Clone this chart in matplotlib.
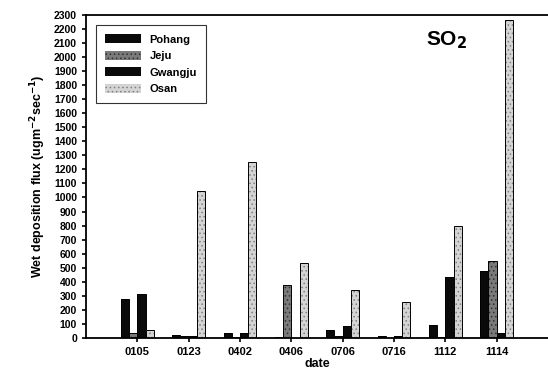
import numpy as np
import matplotlib.pyplot as plt

plt.rcParams['font.family'] = ['Liberation Sans', 'DejaVu Sans']
plt.rcParams['font.weight'] = 'bold'
plt.rcParams['hatch.linewidth'] = 0.6

dates = ['0105', '0123', '0402', '0406', '0706', '0716', '1112', '1114']
pohang = [275, 20, 38, 5, 55, 15, 90, 475]
jeju = [33, 12, 5, 380, 15, 3, 5, 548]
gwangju = [311, 15, 38, 2, 88, 15, 437, 35]
osan = [57, 1045, 1250, 532, 340, 255, 800, 2260]

# name, values, face colour, hatch, hatch colour
series = [('Pohang', pohang, '#0a0a0a', None, '#0a0a0a'),
          ('Jeju', jeju, '#7a7a7a', '....', '#303030'),
          ('Gwangju', gwangju, '#0a0a0a', None, '#0a0a0a'),
          ('Osan', osan, '#d4d4d4', '....', '#808080')]

fig = plt.figure(figsize=(5.48, 3.74), dpi=100)
ax = fig.add_axes([0.157, 0.0963, 0.843, 0.864])

x = np.arange(1, len(dates) + 1)
w = 0.16
handles = []
for i, (name, vals, col, hat, hcol) in enumerate(series):
    pos = x + (i - 1.5) * w
    b = ax.bar(pos, vals, w, color=col, edgecolor=hcol, linewidth=0,
               hatch=hat, label=name)
    ax.bar(pos, vals, w, fill=False, edgecolor='black', linewidth=0.7)
    handles.append(b)

ax.set_xlim(0, 9)
ax.set_ylim(0, 2300)
ax.set_yticks(np.arange(0, 2301, 100))
ax.set_xticks(x)
ax.set_xticklabels(dates)
ax.tick_params(axis='both', labelsize=7.5, direction='out', width=1.2, length=3)
ax.tick_params(axis='x', labelsize=8)
for lab in ax.get_xticklabels() + ax.get_yticklabels():
    lab.set_fontweight('bold')

ax.spines['right'].set_visible(False)
for s in ['left', 'bottom', 'top']:
    ax.spines[s].set_linewidth(1.3)

ax.set_xlabel('date', fontsize=9, fontweight='bold', labelpad=1)
ax.set_ylabel('Wet deposition flux (ugm$^{\\mathbf{-2}}$sec$^{\\mathbf{-1}}$)',
              fontsize=9, fontweight='bold', labelpad=4)

ax.text(0.78, 0.92, 'SO$_\\mathbf{2}$', transform=ax.transAxes, fontsize=15,
        fontweight='bold', ha='center', va='center')

leg = ax.legend(handles=handles, loc='upper left', fontsize=8, frameon=True,
                fancybox=False, edgecolor='black', handlelength=3.2,
                handleheight=0.9, labelspacing=0.55, borderpad=0.8,
                bbox_to_anchor=(0.01, 0.985))
leg.get_frame().set_linewidth(0.8)
for t in leg.get_texts():
    t.set_fontweight('bold')

fig.savefig('out.png', dpi=100)
